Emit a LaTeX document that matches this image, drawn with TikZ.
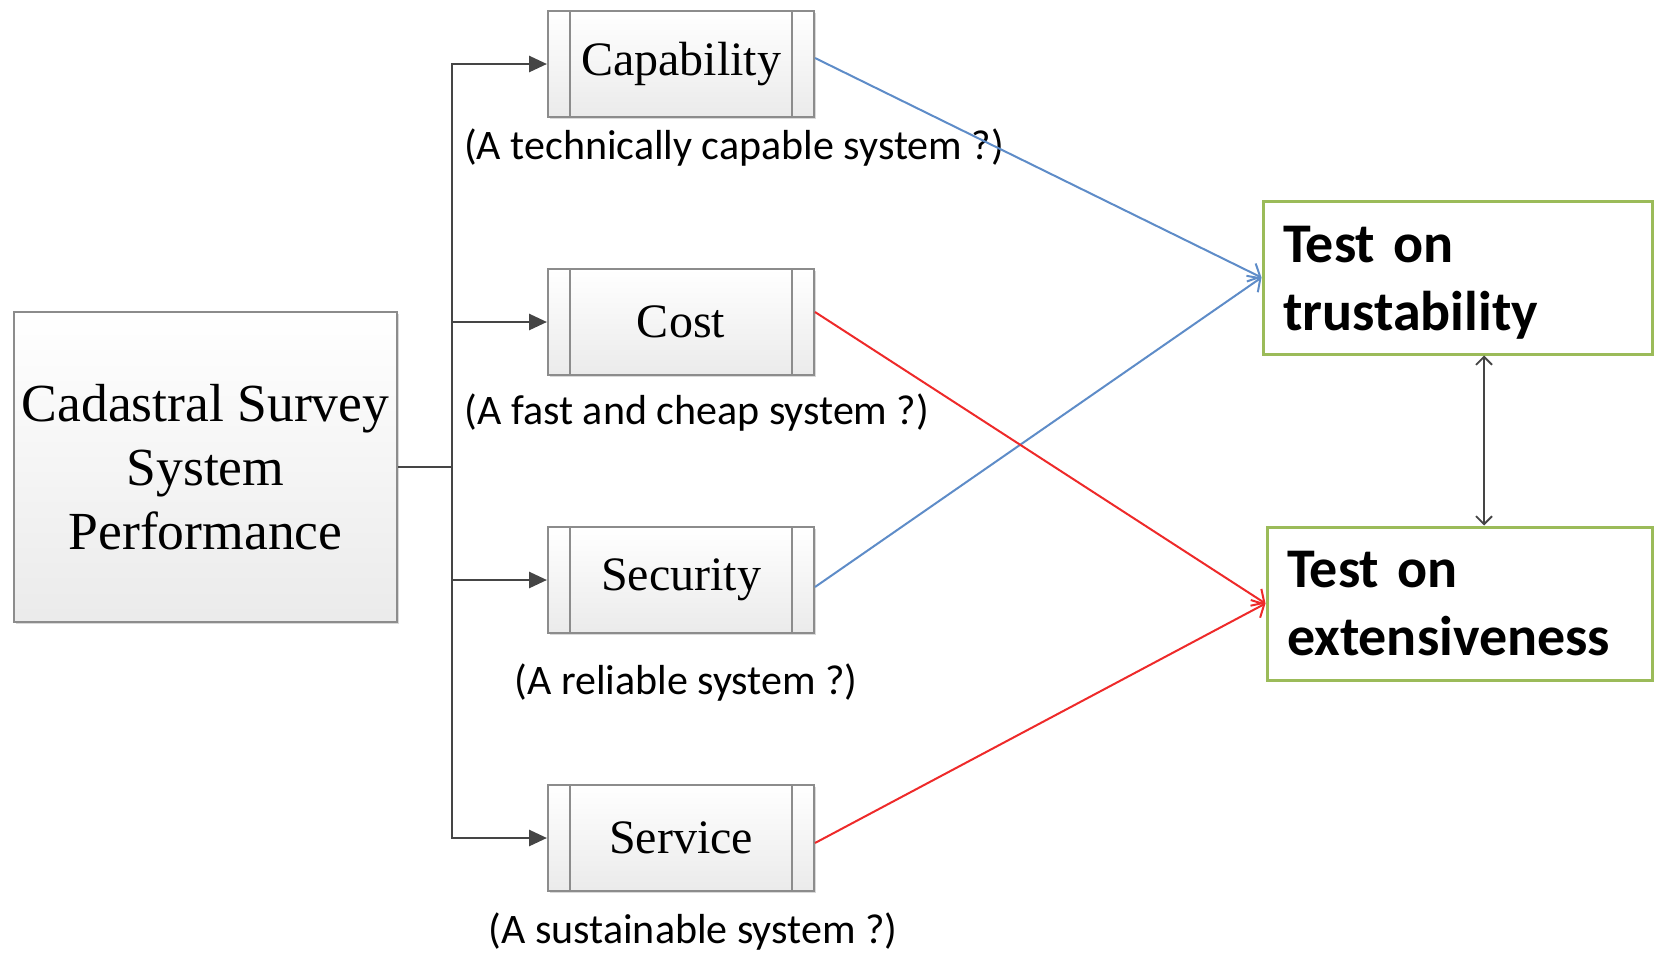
\documentclass[tikz,border=0pt]{standalone}
\usepackage{fontspec}
\setmainfont{Liberation Serif}
\newfontfamily\carl{Carlito}
\usetikzlibrary{arrows.meta,shadows}
\definecolor{boxgray}{HTML}{8C8C8C}
\definecolor{linegray}{HTML}{454545}
\definecolor{testgreen}{HTML}{9BBB59}
\definecolor{lineblue}{HTML}{5E8CC8}
\definecolor{linered}{HTML}{EE2A2A}
\tikzset{
  boxshade/.style={draw=boxgray, line width=1pt, top color=white, bottom color=black!8,
    drop shadow={shadow xshift=1.2pt, shadow yshift=-1.2pt, opacity=0.25, fill=black!60}},
  mainbox/.style={boxshade, minimum width=191.5pt, minimum height=155pt, inner sep=0pt,
    align=center, font=\fontsize{26.8}{32}\selectfont},
  subbox/.style={boxshade, minimum width=133pt, minimum height=53pt, inner sep=0pt,
    font=\fontsize{24}{28}\selectfont},
  caption/.style={font=\carl\fontsize{21}{24}\selectfont, inner sep=0pt},
  testbox/.style={draw=testgreen, line width=1.5pt, fill=white, minimum height=76.5pt,
    inner xsep=10pt, inner ysep=0pt, align=left, font=\carl\bfseries\fontsize{28}{34}\selectfont},
  feed/.style={draw=linegray, line width=1.4pt, -{Triangle[length=9pt,width=8pt]}},
  bluearrow/.style={draw=lineblue, line width=1pt, -{Straight Barb[length=5pt,width=10pt]}},
  redarrow/.style={draw=linered, line width=1pt, -{Straight Barb[length=5pt,width=10pt]}},
  dblarrow/.style={draw=linegray, line width=0.9pt, {Straight Barb[length=4pt,width=8pt]}-{Straight Barb[length=4pt,width=8pt]}}
}
\begin{document}
\begin{tikzpicture}[x=0.5pt,y=-0.5pt]
\useasboundingbox (0,0) rectangle (1656,954);
% main box
\node[mainbox] (main) at (205.5,467) {Cadastral Survey\\System\\Performance};
% sub boxes
\node[subbox] (cap)  at (681,64)  {Capability};
\node[subbox] (cost) at (681,322) {Cost};
\node[subbox] (sec)  at (681,580) {Security};
\node[subbox] (serv) at (681,838) {Service};
\foreach \n in {cap,cost,sec,serv}{
  \draw[boxgray, line width=1pt] ([xshift=11.5pt]\n.north west) -- ([xshift=11.5pt]\n.south west);
  \draw[boxgray, line width=1pt] ([xshift=-11.5pt]\n.north east) -- ([xshift=-11.5pt]\n.south east);
}
% captions
\node[caption] (capc)  at (734,148) {(A technically capable system ?)};
\node[caption] (costc) at (697,413) {(A fast and cheap system ?)};
\node[caption] (secc)  at (686,683) {(A reliable system ?)};
\node[caption] (servc) at (693,932) {(A sustainable system ?)};
% test boxes
\node[testbox, text width=174.5pt] (trust) at (1457.5,277.5) {\rule{0pt}{23pt}Test on\\trustability};
\node[testbox, text width=172.5pt] (ext) at (1459.5,603.5) {Test on\\extensiveness};
% feeding connectors
\coordinate (j) at (452,467);
\coordinate (dx) at (1484,0);
\draw[draw=linegray, line width=1.4pt] (main.east) -- (j);
\draw[feed] (j) |- (cap.west);
\draw[feed] (j) |- (cost.west);
\draw[feed] (j) |- (sec.west);
\draw[feed] (j) |- (serv.west);
% test connectors
\draw[bluearrow] ([yshift=3pt]cap.east) -- (trust.west);
\draw[bluearrow] ([yshift=-3.5pt]sec.east) -- (trust.west);
\draw[redarrow] ([yshift=5pt]cost.east) -- (ext.west);
\draw[redarrow] ([yshift=-2.5pt]serv.east) -- (ext.west);
\draw[dblarrow] (trust.south -| dx) -- (ext.north -| dx);
\end{tikzpicture}
\end{document}
